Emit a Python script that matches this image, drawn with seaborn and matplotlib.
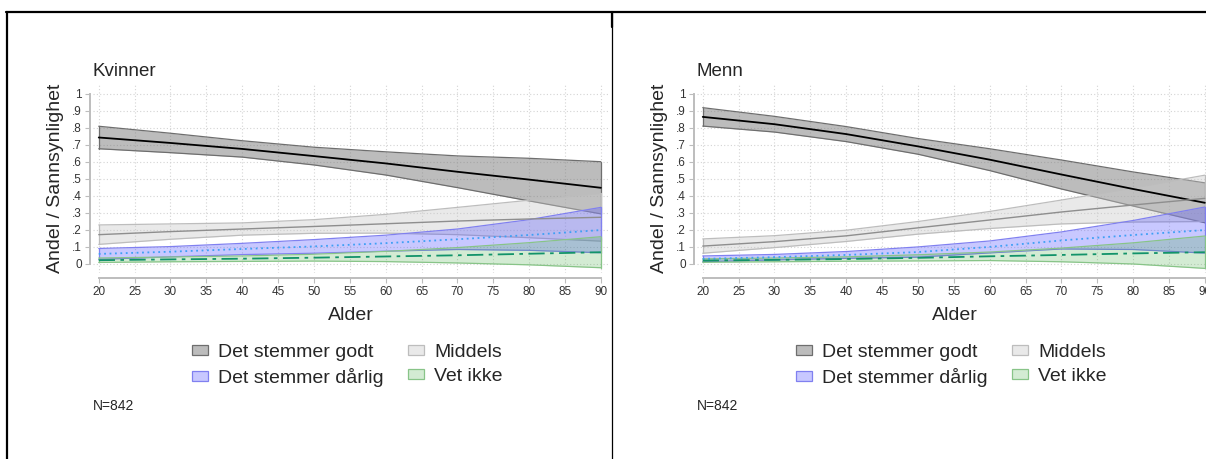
import pandas as pd
import matplotlib
matplotlib.use("Agg")
import matplotlib.pyplot as plt
from matplotlib.patches import Patch
from matplotlib.lines import Line2D
import seaborn as sns

alder = [20, 30, 40, 50, 60, 70, 80, 90]
kategorier = ["Det stemmer godt", "Middels", "Det stemmer dårlig", "Vet ikke"]

# Kvinner: predikert andel og halv bredde av konfidensintervallet
kv_godt = [0.742, 0.710, 0.675, 0.633, 0.590, 0.541, 0.495, 0.447]
kv_godt_ci = [0.066, 0.057, 0.048, 0.052, 0.068, 0.093, 0.125, 0.153]
kv_middels = [0.172, 0.190, 0.205, 0.220, 0.236, 0.252, 0.264, 0.274]
kv_middels_ci = [0.057, 0.045, 0.036, 0.040, 0.055, 0.080, 0.110, 0.140]
kv_darlig = [0.059, 0.072, 0.088, 0.103, 0.122, 0.145, 0.170, 0.199]
kv_darlig_ci = [0.032, 0.030, 0.033, 0.040, 0.047, 0.060, 0.090, 0.133]
kv_vetikke = [0.022, 0.027, 0.031, 0.037, 0.044, 0.051, 0.060, 0.069]
kv_vetikke_ci = [0.013, 0.014, 0.016, 0.020, 0.030, 0.045, 0.065, 0.091]

# Menn
me_godt = [0.863, 0.820, 0.762, 0.690, 0.612, 0.525, 0.440, 0.359]
me_godt_ci = [0.054, 0.046, 0.044, 0.046, 0.064, 0.085, 0.100, 0.117]
me_middels = [0.105, 0.131, 0.165, 0.212, 0.258, 0.305, 0.346, 0.385]
me_middels_ci = [0.042, 0.035, 0.033, 0.037, 0.050, 0.070, 0.100, 0.136]
me_darlig = [0.030, 0.040, 0.053, 0.070, 0.100, 0.138, 0.170, 0.199]
me_darlig_ci = [0.017, 0.016, 0.020, 0.030, 0.035, 0.050, 0.085, 0.135]
me_vetikke = [0.020, 0.024, 0.029, 0.036, 0.045, 0.053, 0.062, 0.069]
me_vetikke_ci = [0.010, 0.011, 0.013, 0.018, 0.025, 0.040, 0.062, 0.095]

paneler = [
    ("Kvinner", [kv_godt, kv_middels, kv_darlig, kv_vetikke],
     [kv_godt_ci, kv_middels_ci, kv_darlig_ci, kv_vetikke_ci]),
    ("Menn", [me_godt, me_middels, me_darlig, me_vetikke],
     [me_godt_ci, me_middels_ci, me_darlig_ci, me_vetikke_ci]),
]

fyll = {"Det stemmer godt": ("#7a7a7a", 0.5, "#6e6e6e"),
        "Middels": ("#c8c8c8", 0.4, "#bdbdbd"),
        "Det stemmer dårlig": ("#4b4bff", 0.3, "#8080f0"),
        "Vet ikke": ("#3aa83a", 0.22, "#88c488")}
linjer = {"Det stemmer godt": ("black", "-", 1.3),
          "Middels": ("#8e8e8e", "-", 1.0),
          "Det stemmer dårlig": ("#3ea0f5", (0, (1, 2)), 1.3),
          "Vet ikke": ("#12936a", (0, (9, 3, 2, 3)), 1.3)}

sns.set_style("white")
plt.rcParams["font.family"] = ["Liberation Sans", "DejaVu Sans"]

W, H = 1206, 459
fig = plt.figure(figsize=(W / 100, H / 100), dpi=100)

for i, (tittel, verdier, ci) in enumerate(paneler):
    dx = i * 604
    ax = fig.add_axes([(93 + dx) / W, (H - 272.5) / H, 515 / W, 187.5 / H])
    rows = []
    for kat, v, c in zip(kategorier, verdier, ci):
        for a, m, h in zip(alder, v, c):
            rows.append({"alder": a, "kategori": kat, "andel": m,
                         "lav": m - h, "hoy": m + h})
    df = pd.DataFrame(rows)

    # konfidensbånd
    for kat in kategorier:
        d = df[df["kategori"] == kat]
        farge, alpha, kant = fyll[kat]
        ax.fill_between(d["alder"], d["lav"], d["hoy"], color=farge,
                        alpha=alpha, linewidth=0, zorder=2)
        ax.plot(d["alder"], d["lav"], color=kant, lw=0.9, zorder=2)
        ax.plot(d["alder"], d["hoy"], color=kant, lw=0.9, zorder=2)
        ax.plot([90, 90], [d["lav"].iloc[-1], d["hoy"].iloc[-1]],
                color=kant, lw=0.9, zorder=2)
        ax.plot([20, 20], [d["lav"].iloc[0], d["hoy"].iloc[0]],
                color=kant, lw=0.9, zorder=2)

    # predikerte linjer
    for kat in kategorier:
        d = df[df["kategori"] == kat]
        farge, stil, lw = linjer[kat]
        sns.lineplot(data=d, x="alder", y="andel", color=farge,
                     linestyle=stil, lw=lw, ax=ax, zorder=3)

    ax.set_xlim(19.2, 91.0)
    ax.set_ylim(-0.05, 1.05)
    ax.set_xticks(range(20, 91, 5))
    ax.set_yticks([k / 10 for k in range(11)])
    ax.set_yticklabels(["0", ".1", ".2", ".3", ".4", ".5", ".6", ".7",
                        ".8", ".9", "1"])
    ax.grid(True, color="#d4d4d4", linestyle=(0, (1, 2)), lw=0.8, zorder=0)
    for s in ["top", "right"]:
        ax.spines[s].set_visible(False)
    ax.spines["left"].set_position(("outward", 2.4))
    ax.spines["bottom"].set_position(("outward", 4))
    ax.spines["left"].set_bounds(0, 1)
    ax.spines["bottom"].set_bounds(20, 90)
    for s in ["left", "bottom"]:
        ax.spines[s].set_color("#bdbdbd")
        ax.spines[s].set_linewidth(1.4)
    ax.tick_params(axis="both", which="both", length=3.5, width=0.8,
                   color="#bdbdbd", labelsize=8.5, labelcolor="#333333",
                   left=True, bottom=True, pad=2)
    ax.set_xlabel("Alder", fontsize=14, labelpad=7)
    ax.set_ylabel("Andel / Sannsynlighet", fontsize=14, labelpad=6)
    fig.text((93 + dx) / W, (H - 72) / H, tittel, fontsize=13.5,
             ha="left", va="center")

    handles = []
    for kat in ["Det stemmer godt", "Det stemmer dårlig", "Middels", "Vet ikke"]:
        farge, alpha, kant = fyll[kat]
        fc = matplotlib.colors.to_rgba(farge, alpha)
        handles.append(Patch(facecolor=fc, edgecolor=kant, lw=0.9, label=kat))
    fig.legend(handles=handles, ncol=2, frameon=False, fontsize=14,
               loc="upper left", bbox_to_anchor=((192 + dx) / W, (H - 344) / H),
               handlelength=0.8, handleheight=0.45, handletextpad=0.55,
               columnspacing=1.25, labelspacing=0.36, borderpad=0,
               borderaxespad=0)
    fig.text((93 + dx) / W, (H - 406) / H, "N=842", fontsize=10,
             ha="left", va="center")

# ramme rundt panelene
fig.add_artist(Line2D([6 / W, 1], [(H - 12) / H] * 2, color="black", lw=1.6))
fig.add_artist(Line2D([6.5 / W] * 2, [0, (H - 12) / H], color="black", lw=1.6))
fig.add_artist(Line2D([612 / W] * 2, [0, (H - 12) / H], color="black", lw=0.9))
fig.add_artist(Line2D([612 / W] * 2, [(H - 27) / H, (H - 12) / H],
                      color="black", lw=1.6))

fig.savefig("out.png", dpi=100)
